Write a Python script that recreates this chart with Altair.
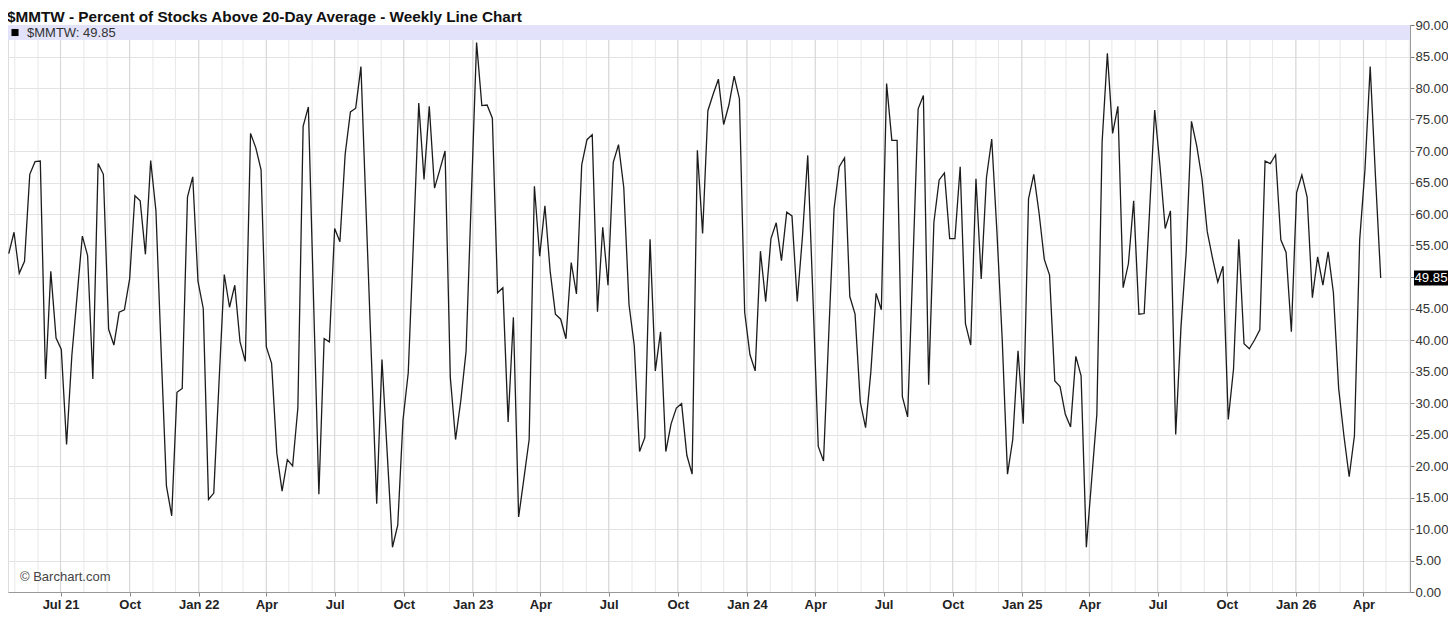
import altair as alt
import pandas as pd

# Weekly readings of $MMTW (percent of stocks above 20-day average)
values = [
    53.7, 57.1, 50.6, 52.5, 66.3, 68.3, 68.4, 33.8, 50.9, 40.3,
    38.5, 23.4, 37.5, 47.0, 56.5, 53.4, 33.8, 68.0, 66.3, 41.7,
    39.2, 44.4, 44.8, 49.7, 62.9, 62.1, 53.6, 68.5, 60.5, 38.0,
    16.8, 12.1, 31.7, 32.3, 62.7, 65.9, 49.3, 45.0, 14.7, 15.7,
    33.2, 50.4, 45.2, 48.7, 39.7, 36.6, 72.8, 70.5, 67.0, 38.9,
    36.3, 22.0, 16.0, 21.0, 20.0, 29.2, 73.9, 77.0, 46.0, 15.5,
    40.2, 39.7, 57.7, 55.6, 69.5, 76.2, 76.8, 83.4, 60.0, 37.0,
    14.0, 36.9, 22.0, 7.1, 10.6, 27.3, 34.8, 55.9, 77.6, 65.5,
    77.1, 64.1, 67.0, 70.0, 34.1, 24.2, 30.4, 38.2, 62.7, 87.2,
    77.2, 77.3, 75.2, 47.5, 48.3, 27.0, 43.6, 11.9, 18.0, 24.2,
    64.4, 53.3, 61.3, 50.9, 44.1, 43.3, 40.2, 52.3, 47.3, 67.8,
    71.8, 72.6, 44.5, 57.9, 48.7, 68.2, 71.0, 64.2, 45.6, 39.1,
    22.3, 24.5, 56.0, 35.1, 41.3, 22.3, 26.7, 29.2, 29.9, 21.7,
    18.7, 70.1, 56.9, 76.4, 79.0, 81.4, 74.2, 77.3, 81.9, 78.3,
    44.4, 37.7, 35.1, 54.1, 46.1, 56.1, 58.6, 52.6, 60.3, 59.7,
    46.1, 56.5, 69.3, 46.5, 23.1, 20.8, 41.0, 60.8, 67.5, 68.9,
    46.9, 44.1, 30.1, 26.1, 34.9, 47.4, 44.8, 80.7, 71.7, 71.7,
    31.0, 27.8, 52.0, 76.7, 78.8, 32.9, 58.7, 65.4, 66.5, 56.1,
    56.1, 67.5, 42.6, 39.2, 65.6, 49.7, 65.8, 71.9, 57.0, 40.0,
    18.7, 24.2, 38.3, 26.7, 62.4, 66.3, 60.2, 52.8, 50.3, 33.5,
    32.6, 28.2, 26.2, 37.4, 34.3, 7.1, 17.7, 28.2, 71.4, 85.5,
    72.8, 77.1, 48.3, 52.1, 62.1, 44.1, 44.2, 60.0, 76.5, 67.7,
    57.7, 60.5, 25.0, 42.0, 54.0, 74.7, 70.8, 65.6, 57.2, 53.0,
    49.2, 51.7, 27.4, 35.4, 56.0, 39.4, 38.6, 40.0, 41.6, 68.4,
    68.0, 69.4, 55.9, 53.9, 41.3, 63.4, 66.2, 62.7, 46.7, 53.2,
    48.7, 54.0, 47.5, 32.3, 24.8, 18.3, 24.8, 55.9, 67.0, 83.4,
    66.0, 49.85,
]
first_week = "2021-04-23"
last_value = 49.85
symbol = "$MMTW"
title_text = "$MMTW - Percent of Stocks Above 20-Day Average - Weekly Line Chart"
credit_text = "\u00a9 Barchart.com"
x_domain = ["2021-04-22", "2026-06-02"]
y_ticks = list(range(0, 91, 5))

dates = pd.date_range(first_week, periods=len(values), freq="7D")
df = pd.DataFrame({"date": dates.strftime("%Y-%m-%d"), "pct": values})

months = pd.date_range("2021-05-01", "2026-06-01", freq="MS")
quarters = [d for d in months if d.month in (1, 4, 7, 10)]
month_df = pd.DataFrame({"date": months.strftime("%Y-%m-%d")})
quarter_df = pd.DataFrame({"date": [d.strftime("%Y-%m-%d") for d in quarters]})
last_df = pd.DataFrame({"pct": [last_value], "label": [f"{last_value:.2f}"]})
one = pd.DataFrame({"k": [0]})

def ms(s):
    return int(pd.Timestamp(s).value // 10**6)

W, H = 1402, 567
FONT = "Liberation Sans"
first_q = quarters[0].strftime("%Y-%m")

x_enc = alt.X(
    "date:T",
    scale=alt.Scale(type="utc", domain=[ms(x_domain[0]), ms(x_domain[1])]),
    axis=alt.Axis(
        values=[ms(d) for d in quarters],
        labelExpr=f"(utcFormat(datum.value, '%m') == '01' || utcFormat(datum.value, '%Y-%m') == '{first_q}') ? utcFormat(datum.value, '%b %y') : utcFormat(datum.value, '%b')",
        grid=False, title=None, tickSize=4, tickColor="#888", domainColor="#999",
        labelFont=FONT, labelFontSize=13, labelFontWeight="bold", labelColor="#222",
        labelPadding=2, labelFlush=False, labelOverlap=False,
    ),
)
y_enc = alt.Y(
    "pct:Q",
    scale=alt.Scale(domain=[0, 90], nice=False, zero=False),
    axis=alt.Axis(
        orient="right", values=y_ticks,
        labelExpr="datum.value == 50 ? '' : format(datum.value, '.2f')",
        grid=True, gridColor="#e3e3e3", title=None, tickSize=4,
        tickColor="#777", domainColor="#999",
        labelFont=FONT, labelFontSize=13.2, labelColor="#333", labelPadding=1,
    ),
)

month_rules = alt.Chart(month_df).mark_rule(color="#e8e8e8", strokeWidth=1).encode(x=x_enc)
quarter_rules = alt.Chart(quarter_df).mark_rule(color="#d6d6d6", strokeWidth=1).encode(x=x_enc)

line = alt.Chart(df).mark_line(color="#1c1c1c", strokeWidth=1.3).encode(x=x_enc, y=y_enc)

band = alt.Chart(one).mark_rect(color="#e2e2fa").encode(
    x=alt.value(0), x2=alt.value(W), y=alt.value(0), y2=alt.value(15)
)
legend_sq = alt.Chart(one).mark_square(color="#000", opacity=1, size=50).encode(
    x=alt.value(7), y=alt.value(7.5)
)
legend_txt = alt.Chart(one).mark_text(
    text=f"{symbol}: {last_value:.2f}", align="left", baseline="middle",
    font=FONT, fontSize=13, color="#333"
).encode(x=alt.value(19), y=alt.value(8))

title = alt.Chart(one).mark_text(
    text=title_text, align="left", baseline="alphabetic",
    font=FONT, fontSize=15.3, fontWeight="bold", color="#111"
).encode(x=alt.value(-1), y=alt.value(-3))

credit = alt.Chart(one).mark_text(
    text=credit_text, align="left", baseline="middle",
    font=FONT, fontSize=13, color="#444"
).encode(x=alt.value(12), y=alt.value(552))

box_path = "M-1,-0.44L1,-0.44L1,0.44L-1,0.44Z"
last_box = alt.Chart(last_df).mark_point(
    shape=box_path, filled=True, color="#000", opacity=1, size=1156
).encode(x=alt.value(W + 21), y=y_enc)
last_txt = alt.Chart(last_df).mark_text(
    align="center", baseline="middle", font=FONT, fontSize=13.2, color="#fff"
).encode(x=alt.value(W + 21), y=y_enc, text="label:N")

chart = alt.layer(
    month_rules, quarter_rules, band, line, legend_sq, legend_txt, credit, title,
    last_box, last_txt,
).properties(
    width=W, height=H,
    autosize=alt.AutoSizeParams(type="none"),
    padding={"left": 0, "top": 17, "right": 38, "bottom": 24},
).configure_view(stroke="#999", strokeWidth=1).configure(background="#ffffff")

chart.save("out.html", embed_options={"renderer": "svg", "actions": False})
